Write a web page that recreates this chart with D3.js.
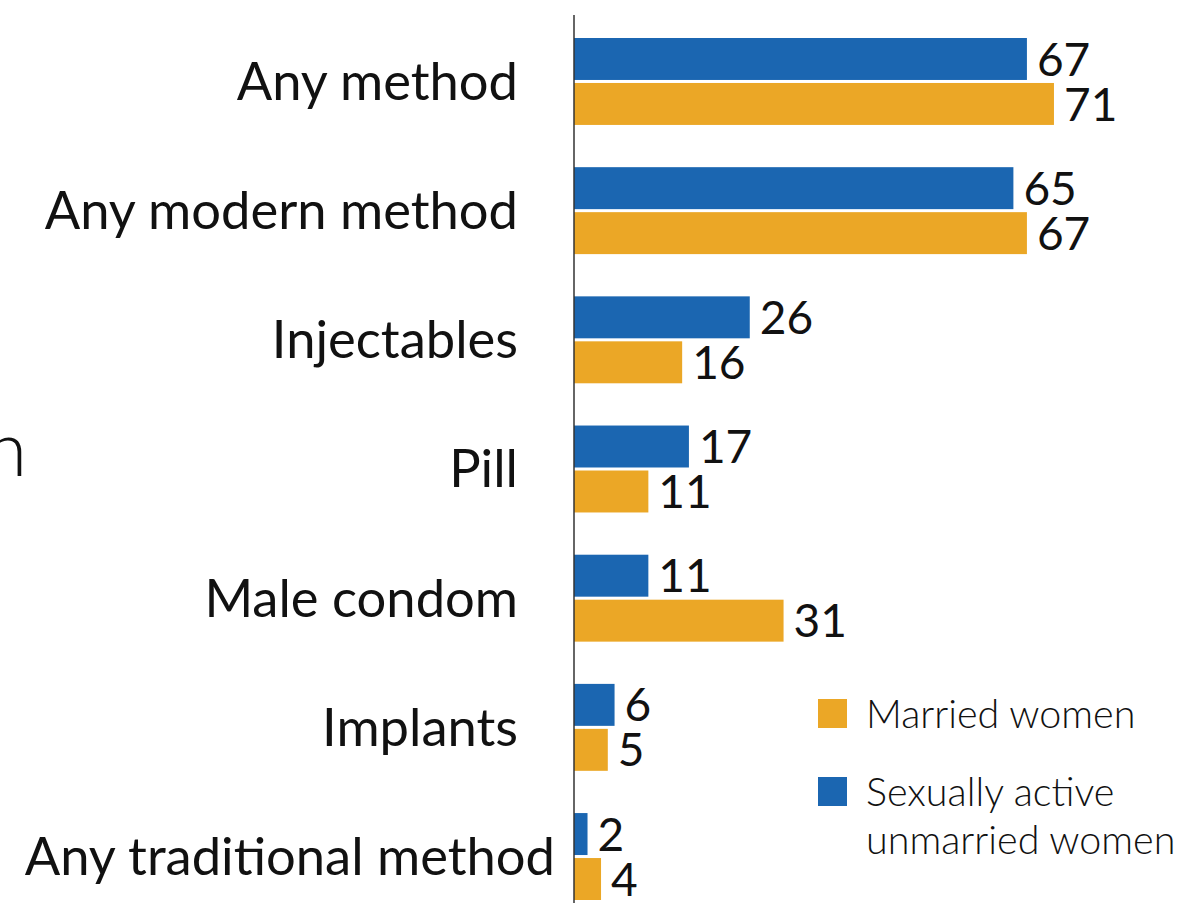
<!DOCTYPE html>
<html>
<head>
<meta charset="utf-8">
<script src="https://cdn.jsdelivr.net/npm/d3@7"></script>
<style>
  html, body { margin: 0; padding: 0; background: #fff; }
  svg { display: block; }
</style>
</head>
<body>
<svg id="chart" width="1178" height="903"></svg>
<script>
const categories = ["Any method", "Any modern method", "Injectables", "Pill", "Male condom", "Implants", "Any traditional method"];
const unmarriedValues = [67, 65, 26, 17, 11, 6, 2];
const marriedValues = [71, 67, 16, 11, 31, 5, 4];
const seriesKeys = ["unmarried", "married"];
const seriesNames = {married: "Married women", unmarried: ["Sexually active", "unmarried women"]};
const colors = {unmarried: "#1b66b1", married: "#eba726"};

const svg = d3.select("#chart");
const font = "Lato, 'Open Sans', sans-serif";

const x = d3.scaleLinear().domain([0, 100]).range([574, 574 + 676]);
const y = d3.scaleBand().domain(categories).range([38, 900]).paddingInner(0.327).paddingOuter(0);
const ySub = d3.scaleBand().domain(seriesKeys).range([0, y.bandwidth()]).paddingInner(0.067);

const rows = categories.map((c, i) => ({cat: c, unmarried: unmarriedValues[i], married: marriedValues[i]}));

// partial cut-off letter at left edge
svg.append("text").attr("x", 27).attr("y", 476).attr("text-anchor", "end")
  .attr("font-family", font).attr("font-weight", 300).attr("font-size", 76).attr("fill", "#111").text("n");

const g = svg.selectAll("g.grp").data(rows).join("g").attr("class", "grp")
  .attr("transform", d => `translate(0,${y(d.cat)})`);

g.selectAll("rect").data(d => seriesKeys.map(k => ({k, v: d[k]}))).join("rect")
  .attr("x", x(0)).attr("y", d => ySub(d.k)).attr("height", ySub.bandwidth())
  .attr("width", d => x(d.v) - x(0)).attr("fill", d => colors[d.k]);

g.selectAll("text.val").data(d => seriesKeys.map(k => ({k, v: d[k]}))).join("text")
  .attr("class", "val")
  .attr("x", d => x(d.v) + 10).attr("y", d => ySub(d.k) + ySub.bandwidth() / 2)
  .attr("dy", "0.36em").attr("font-family", font).attr("font-size", 46).attr("fill", "#111")
  .text(d => d.v);

g.append("text").attr("class", "cat")
  .attr("x", (d, i) => i === categories.length - 1 ? 555 : 518)
  .attr("y", y.bandwidth() / 2).attr("dy", "0.35em").attr("text-anchor", "end")
  .attr("font-family", font).attr("font-size", 52.5).attr("fill", "#111")
  .text(d => d.cat);

// axis line
svg.append("line").attr("x1", x(0)).attr("x2", x(0)).attr("y1", 15).attr("y2", 903)
  .attr("stroke", "#333").attr("stroke-width", 1.5);

// legend
const legend = svg.append("g").attr("transform", "translate(818,0)");
const legItems = [{k: "married", y: 699}, {k: "unmarried", y: 777}];
legend.selectAll("rect").data(legItems).join("rect")
  .attr("x", 0).attr("y", d => d.y).attr("width", 29).attr("height", 29).attr("fill", d => colors[d.k]);
legend.selectAll("text").data(legItems).join("text")
  .attr("x", 48).attr("y", d => d.y + 29)
  .attr("font-family", font).attr("font-weight", 300).attr("font-size", 39.5).attr("fill", "#111")
  .each(function(d) {
    const lines = [].concat(seriesNames[d.k]);
    d3.select(this).selectAll("tspan").data(lines).join("tspan")
      .attr("x", 48).attr("dy", (l, i) => i === 0 ? 0 : 48).text(l => l);
  });
</script>
</body>
</html>
